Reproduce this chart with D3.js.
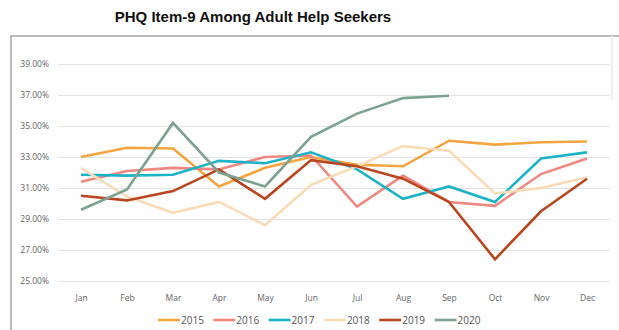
<!DOCTYPE html>
<html>
<head>
<meta charset="utf-8">
<script src="https://cdn.jsdelivr.net/npm/d3@7"></script>
<style>
  html, body { margin: 0; padding: 0; background: #fff; }
  svg { display: block; }
</style>
</head>
<body>
<svg id="chart" width="619" height="330"></svg>
<script>
// Monthly share of adult help seekers endorsing PHQ item 9, by year
const months = ["Jan","Feb","Mar","Apr","May","Jun","Jul","Aug","Sep","Oct","Nov","Dec"];
const years = ["2015","2016","2017","2018","2019","2020"];
const yTicks = [25, 27, 29, 31, 33, 35, 37, 39];

const v2015 = [33.0, 33.6, 33.55, 31.1, 32.3, 33.0, 32.5, 32.4, 34.05, 33.8, 33.95, 34.0];
const v2016 = [31.4, 32.1, 32.3, 32.2, 33.0, 33.1, 29.8, 31.8, 30.1, 29.85, 31.9, 32.9];
const v2017 = [31.85, 31.8, 31.85, 32.75, 32.6, 33.3, 32.2, 30.3, 31.1, 30.1, 32.9, 33.3];
const v2018 = [32.3, 30.45, 29.4, 30.1, 28.6, 31.2, 32.4, 33.7, 33.4, 30.65, 31.0, 31.7];
const v2019 = [30.5, 30.2, 30.8, 32.2, 30.3, 32.8, 32.4, 31.6, 30.1, 26.4, 29.5, 31.6];
const v2020 = [29.6, 30.9, 35.2, 32.0, 31.1, 34.3, 35.8, 36.8, 36.95];

const colors = ["#F4A53F", "#EF8882", "#1DB3C6", "#F9DCB8", "#B8461F", "#7DA291"];
const seriesValues = [v2015, v2016, v2017, v2018, v2019, v2020];

const svg = d3.select("#chart");
const W = 619, H = 330;

// Title
svg.append("text")
  .attr("x", 253).attr("y", 22)
  .attr("text-anchor", "middle")
  .attr("font-family", "Liberation Sans, Arial, sans-serif")
  .attr("font-weight", "bold")
  .attr("font-size", 15)
  .attr("fill", "#111")
  .text("PHQ Item-9 Among Adult Help Seekers");

// Frame around the plot area
svg.append("path")
  .attr("d", `M11,${H} L11,36 L${W},36`)
  .attr("fill", "none")
  .attr("stroke", "#bdbdbd")
  .attr("stroke-width", 2);
svg.append("line")
  .attr("x1", 612).attr("x2", 612).attr("y1", 36).attr("y2", 100)
  .attr("stroke", "#ececec").attr("stroke-width", 1.5);

const x = d3.scalePoint().domain(months).range([81, 587]);
const y = d3.scaleLinear().domain([25, 39]).range([281, 64]);

// Horizontal gridlines with percentage labels
const yAxis = d3.axisLeft(y)
  .tickValues(yTicks)
  .tickSize(-(610 - 58))
  .tickPadding(9)
  .tickFormat(d => d3.format(".2f")(d) + "%");
const gy = svg.append("g").attr("transform", "translate(58,0)").call(yAxis);
gy.select(".domain").remove();
gy.selectAll(".tick line").attr("stroke", "#e4e4e4").attr("stroke-width", 1.2);
gy.selectAll(".tick text")
  .attr("font-family", "Open Sans, sans-serif")
  .attr("font-size", 8.5)
  .attr("fill", "#666");

// Month labels
const xAxis = d3.axisBottom(x).tickSize(0).tickPadding(10);
const gx = svg.append("g").attr("transform", "translate(0,285)").call(xAxis);
gx.select(".domain").remove();
gx.selectAll(".tick text")
  .attr("font-family", "Open Sans, sans-serif")
  .attr("font-size", 8.5)
  .attr("fill", "#666");

// Year lines
const line = d3.line()
  .x((d, i) => x(months[i]))
  .y(d => y(d));

seriesValues.forEach((vals, k) => {
  svg.append("path")
    .datum(vals)
    .attr("d", line)
    .attr("fill", "none")
    .attr("stroke", colors[k])
    .attr("stroke-width", 2.6)
    .attr("stroke-linejoin", "miter");
});

// Legend
const legend = svg.append("g").attr("transform", "translate(158,320)");
years.forEach((yr, k) => {
  const g = legend.append("g").attr("transform", `translate(${k * 55.3},0)`);
  g.append("line")
    .attr("x1", 0).attr("x2", 22).attr("y1", 0).attr("y2", 0)
    .attr("stroke", colors[k]).attr("stroke-width", 2.6);
  g.append("text")
    .attr("x", 23).attr("y", 4)
    .attr("font-family", "Open Sans, sans-serif")
    .attr("font-size", 10)
    .attr("fill", "#555")
    .text(yr);
});
</script>
</body>
</html>
